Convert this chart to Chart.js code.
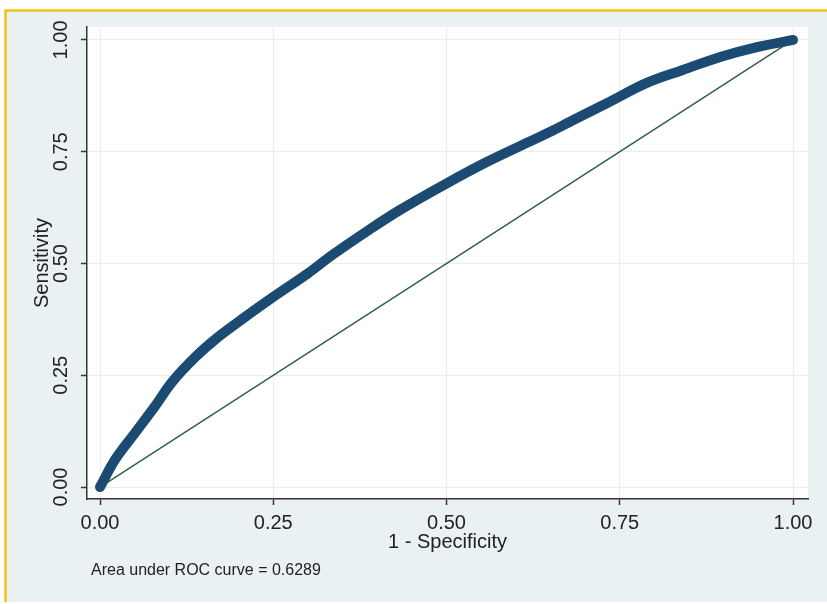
<!DOCTYPE html>
<html>
<head>
<meta charset="utf-8">
<script src="https://cdn.jsdelivr.net/npm/chart.js@4"></script>
<style>
    html, body { margin: 0; padding: 0; background: #ffffff; }
    #wrap { width: 827px; height: 604px; }
</style>
</head>
<body>
<div id="wrap"><canvas id="roc" width="827" height="604"></canvas></div>
<script>
// ROC curve points (1 - specificity, sensitivity)
const rocFpr = [0, 0.022, 0.051, 0.079, 0.104, 0.137, 0.170, 0.209, 0.248, 0.300, 0.336, 0.385,
    0.433, 0.501, 0.558, 0.616, 0.649, 0.683, 0.732, 0.789, 0.841, 0.895, 0.948, 1];
const rocTpr = [0, 0.062, 0.122, 0.180, 0.235, 0.290, 0.335, 0.380, 0.423, 0.478, 0.520, 0.572,
    0.620, 0.680, 0.727, 0.770, 0.794, 0.821, 0.859, 0.904, 0.933, 0.962, 0.984, 1];

// reference line
const refX = [0, 1];
const refY = [0, 1];

const tickValues = [0, 0.25, 0.5, 0.75, 1];
const aucText = 'Area under ROC curve = 0.6289';

const textFont = '"Liberation Sans", Arial, sans-serif';

const toPoints = (xs, ys) => xs.map((x, i) => ({ x: x, y: ys[i] }));
const setTicks = (scale) => { scale.ticks = tickValues.map(v => ({ value: v })); };

const backdrop = {
    id: 'backdrop',
    beforeDraw(chart) {
        const { ctx, width, height, chartArea } = chart;
        ctx.save();
        ctx.fillStyle = '#ffffff';
        ctx.fillRect(0, 0, width, height);
        ctx.fillStyle = '#eaf1f3';
        ctx.fillRect(5, 10, width - 5, height - 12);
        ctx.strokeStyle = '#efc21c';
        ctx.lineWidth = 2.5;
        ctx.beginPath();
        ctx.moveTo(5.5, height - 2);
        ctx.lineTo(5.5, 10.5);
        ctx.lineTo(width, 10.5);
        ctx.stroke();
        ctx.fillStyle = '#ffffff';
        ctx.fillRect(chartArea.left, chartArea.top, chartArea.right - chartArea.left, chartArea.bottom - chartArea.top);
        ctx.restore();
    },
    afterDraw(chart) {
        const ctx = chart.ctx;
        ctx.save();
        ctx.fillStyle = '#222222';
        ctx.font = `16px ${textFont}`;
        ctx.textBaseline = 'middle';
        ctx.textAlign = 'left';
        ctx.fillText(aucText, 91, 571);
        ctx.restore();
    }
};

new Chart(document.getElementById('roc'), {
    type: 'line',
    data: {
        datasets: [{
            label: 'ROC',
            data: toPoints(rocFpr, rocTpr),
            borderColor: '#1b4a72',
            borderWidth: 10,
            borderCapStyle: 'round',
            borderJoinStyle: 'round',
            tension: 0.35,
            pointRadius: 0,
            order: 1
        }, {
            label: 'Reference',
            data: toPoints(refX, refY),
            borderColor: '#2f5f45',
            borderWidth: 1.5,
            pointRadius: 0,
            order: 2
        }]
    },
    options: {
        responsive: false,
        animation: false,
        devicePixelRatio: 1,
        layout: { padding: { left: 0, top: 27, right: 19, bottom: 0 } },
        plugins: {
            legend: { display: false },
            tooltip: { enabled: false }
        },
        scales: {
            x: {
                type: 'linear',
                min: -0.0188,
                max: 1.0216,
                afterBuildTicks: setTicks,
                afterFit: (scale) => { scale.height = 105; },
                border: { display: true, color: '#333333', width: 1.5 },
                grid: { color: '#ececec', lineWidth: 1, tickLength: 6, tickColor: '#333333', tickWidth: 1.5 },
                ticks: {
                    padding: 6,
                    maxRotation: 0,
                    color: '#222222',
                    font: { family: textFont, size: 20 },
                    callback: (v) => v.toFixed(2)
                },
                title: {
                    display: true,
                    text: '1 - Specificity',
                    color: '#222222',
                    font: { family: textFont, size: 20, lineHeight: 1 },
                    padding: { top: 0, bottom: 52 }
                }
            },
            y: {
                type: 'linear',
                min: -0.0268,
                max: 1.029,
                afterBuildTicks: setTicks,
                afterFit: (scale) => { scale.width = 87; },
                border: { display: true, color: '#333333', width: 1.5 },
                grid: { color: '#ececec', lineWidth: 1, tickLength: 6, tickColor: '#333333', tickWidth: 1.5 },
                ticks: {
                    padding: 0,
                    minRotation: 90,
                    maxRotation: 90,
                    crossAlign: 'center',
                    color: '#222222',
                    font: { family: textFont, size: 20 },
                    callback: (v) => v.toFixed(2)
                },
                title: {
                    display: true,
                    text: 'Sensitivity',
                    color: '#222222',
                    font: { family: textFont, size: 20, lineHeight: 1 },
                    padding: { top: 32, bottom: 0 }
                }
            }
        }
    },
    plugins: [backdrop]
});
</script>
</body>
</html>
